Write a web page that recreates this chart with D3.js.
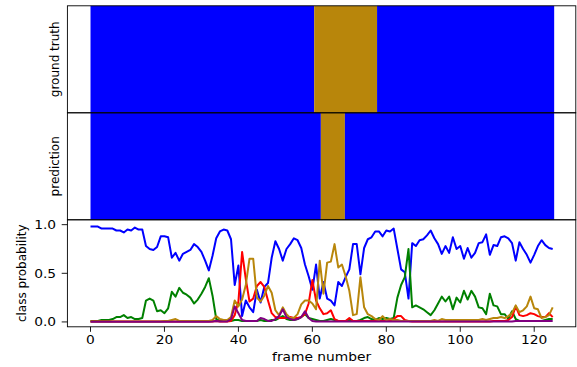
<!DOCTYPE html>
<html>
<head>
<meta charset="utf-8">
<script src="https://cdn.jsdelivr.net/npm/d3@7"></script>
<style>
  html, body { margin: 0; padding: 0; background: #fff; }
  svg { display: block; }
  text { font-family: "DejaVu Sans", sans-serif; fill: #000; }
</style>
</head>
<body>
<svg id="chart" width="577" height="367"></svg>
<script>
// Class colours (index = class id)
const classColors = ["#0000ff", "#008000", "#ff0000", "#b8860b", "#800080"];

// Ground-truth and predicted label segments (class id, start frame, end frame)
const truthClass = [0, 3, 0];
const truthStart = [0, 60.5, 77.5];
const truthEnd   = [60.5, 77.5, 125.4];

const predClass = [0, 3, 0];
const predStart = [0, 62.3, 68.8];
const predEnd   = [62.3, 68.8, 125.4];

// Per-frame class probabilities, frames 0..125
const probBlue = [
  0.98,0.98,0.98,0.96,0.96,0.96,0.96,0.94,0.94,0.92,
  0.95,0.94,0.97,0.95,0.95,0.78,0.75,0.74,0.77,0.88,
  0.88,0.87,0.66,0.71,0.63,0.70,0.72,0.74,0.80,0.77,
  0.72,0.63,0.53,0.68,0.86,0.93,0.95,0.94,0.85,0.38,
  0.58,0.06,0.22,0.15,0.10,0.33,0.20,0.36,0.40,0.66,
  0.83,0.75,0.63,0.75,0.80,0.86,0.84,0.76,0.59,0.47,
  0.33,0.59,0.24,0.41,0.24,0.22,0.17,0.41,0.37,0.46,
  0.54,0.80,0.80,0.49,0.76,0.85,0.87,0.93,0.93,0.88,
  0.94,0.93,0.96,0.75,0.54,0.51,0.24,0.81,0.78,0.84,
  0.85,0.89,0.94,0.86,0.80,0.70,0.78,0.71,0.87,0.75,
  0.78,0.65,0.76,0.66,0.71,0.81,0.82,0.90,0.69,0.79,
  0.78,0.87,0.88,0.86,0.81,0.63,0.82,0.75,0.69,0.61,
  0.69,0.78,0.84,0.79,0.76,0.75
];
const probGreen = [
  0.01,0.01,0.01,0.02,0.02,0.02,0.03,0.05,0.05,0.07,
  0.04,0.05,0.03,0.03,0.04,0.22,0.24,0.22,0.11,0.12,
  0.09,0.14,0.31,0.26,0.35,0.30,0.28,0.25,0.19,0.23,
  0.29,0.36,0.45,0.27,0.03,0.01,0.01,0.01,0.01,0.02,
  0.02,0.01,0.01,0.01,0.01,0.01,0.02,0.01,0.01,0.02,
  0.02,0.04,0.06,0.03,0.02,0.02,0.03,0.05,0.08,0.04,
  0.03,0.02,0.01,0.01,0.02,0.03,0.02,0.01,0.01,0.01,
  0.02,0.01,0.01,0.02,0.04,0.05,0.03,0.02,0.04,0.03,
  0.04,0.03,0.04,0.25,0.38,0.46,0.75,0.15,0.17,0.15,
  0.13,0.10,0.07,0.12,0.19,0.26,0.21,0.26,0.13,0.25,
  0.20,0.32,0.23,0.32,0.26,0.15,0.14,0.08,0.29,0.17,
  0.16,0.08,0.08,0.03,0.11,0.03,0.01,0.01,0.01,0.01,
  0.01,0.01,0.01,0.02,0.03,0.03
];
const probRed = [
  0.005,0.005,0.005,0.005,0.005,0.005,0.005,0.005,0.005,0.005,
  0.005,0.005,0.005,0.005,0.005,0.005,0.005,0.005,0.005,0.005,
  0.005,0.005,0.005,0.005,0.005,0.005,0.005,0.005,0.005,0.005,
  0.005,0.005,0.005,0.005,0.01,0.005,0.005,0.005,0.01,0.07,
  0.21,0.72,0.44,0.21,0.24,0.37,0.41,0.36,0.22,0.09,
  0.05,0.04,0.04,0.04,0.05,0.04,0.04,0.05,0.08,0.19,
  0.43,0.22,0.14,0.08,0.09,0.12,0.03,0.01,0.01,0.01,
  0.04,0.01,0.01,0.01,0.01,0.01,0.01,0.01,0.01,0.01,
  0.01,0.01,0.03,0.06,0.06,0.02,0.01,0.005,0.005,0.005,
  0.005,0.005,0.005,0.005,0.005,0.005,0.005,0.005,0.005,0.005,
  0.005,0.005,0.005,0.005,0.005,0.005,0.005,0.005,0.005,0.01,
  0.01,0.01,0.01,0.02,0.05,0.16,0.07,0.06,0.07,0.09,
  0.08,0.06,0.05,0.05,0.09,0.05
];
const probGold = [
  0.005,0.005,0.005,0.005,0.005,0.005,0.005,0.005,0.005,0.005,
  0.005,0.005,0.005,0.005,0.005,0.005,0.005,0.005,0.005,0.005,
  0.01,0.01,0.02,0.03,0.01,0.01,0.01,0.01,0.01,0.01,
  0.01,0.01,0.01,0.02,0.06,0.03,0.02,0.02,0.05,0.22,
  0.16,0.23,0.38,0.65,0.65,0.25,0.21,0.27,0.37,0.30,
  0.12,0.07,0.15,0.08,0.04,0.04,0.08,0.18,0.22,0.22,
  0.19,0.13,0.63,0.29,0.61,0.62,0.80,0.56,0.59,0.47,
  0.32,0.07,0.08,0.46,0.15,0.08,0.06,0.03,0.02,0.06,
  0.02,0.03,0.02,0.02,0.01,0.01,0.01,0.01,0.01,0.01,
  0.01,0.01,0.01,0.02,0.01,0.03,0.02,0.02,0.02,0.02,
  0.02,0.02,0.02,0.02,0.02,0.02,0.03,0.02,0.03,0.04,
  0.04,0.05,0.04,0.06,0.09,0.17,0.10,0.12,0.16,0.26,
  0.14,0.13,0.04,0.05,0.07,0.15
];
const probPurple = [
  0.003,0.003,0.003,0.003,0.003,0.003,0.003,0.003,0.003,0.003,
  0.003,0.003,0.003,0.003,0.003,0.003,0.003,0.003,0.003,0.003,
  0.003,0.003,0.003,0.003,0.003,0.003,0.003,0.003,0.003,0.003,
  0.003,0.003,0.003,0.005,0.01,0.005,0.005,0.005,0.03,0.16,
  0.09,0.02,0.01,0.01,0.01,0.01,0.04,0.03,0.01,0.01,
  0.03,0.06,0.13,0.05,0.03,0.02,0.03,0.05,0.11,0.04,
  0.01,0.005,0.005,0.005,0.005,0.005,0.005,0.005,0.005,0.005,
  0.005,0.005,0.005,0.005,0.005,0.005,0.005,0.005,0.005,0.005,
  0.005,0.005,0.005,0.005,0.005,0.005,0.005,0.005,0.005,0.005,
  0.005,0.005,0.005,0.005,0.005,0.005,0.005,0.005,0.005,0.005,
  0.005,0.005,0.005,0.005,0.005,0.005,0.005,0.005,0.005,0.005,
  0.005,0.005,0.005,0.005,0.005,0.01,0.01,0.01,0.01,0.01,
  0.01,0.01,0.01,0.01,0.01,0.01
];
const probSeries = [probBlue, probGreen, probRed, probGold, probPurple];

const xTicks = [0, 20, 40, 60, 80, 100, 120];
const yTicks = [0.0, 0.5, 1.0];

// ---- layout ----
const svg = d3.select("#chart");
const plotLeft = 67.4, plotRight = 575.8, plotTop = 5.8, panelH = 107;
const stretch = 1.15;              // horizontal text aspect
const fontSize = 12;

const x = d3.scaleLinear().domain([-6.25, 131.25]).range([plotLeft, plotRight]);
const panelTop = i => plotTop + i * panelH;

// label bar panels
function segmentPanel(idx, cls, starts, ends) {
  const g = svg.append("g");
  const y0 = panelTop(idx);
  g.selectAll("rect").data(cls).join("rect")
    .attr("x", (c, i) => x(starts[i]))
    .attr("width", (c, i) => x(ends[i]) - x(starts[i]))
    .attr("y", y0)
    .attr("height", panelH)
    .attr("fill", c => classColors[c]);
}
segmentPanel(0, truthClass, truthStart, truthEnd);
segmentPanel(1, predClass, predStart, predEnd);

// probability panel
const y = d3.scaleLinear().domain([-0.05, 1.05]).range([panelTop(3), panelTop(2)]);
const clipId = "probClip";
svg.append("clipPath").attr("id", clipId).append("rect")
  .attr("x", plotLeft).attr("y", panelTop(2)).attr("width", plotRight - plotLeft).attr("height", panelH);

const line = d3.line().x((d, i) => x(i)).y(d => y(d));
svg.append("g").attr("clip-path", `url(#${clipId})`)
  .selectAll("path").data(probSeries).join("path")
  .attr("d", d => line(d))
  .attr("fill", "none")
  .attr("stroke", (d, i) => classColors[i])
  .attr("stroke-width", 2)
  .attr("stroke-linejoin", "round")
  .attr("stroke-linecap", "butt");

// frames: spines and separators
const frame = svg.append("g").attr("fill", "none").attr("stroke", "#000").attr("stroke-width", 0.9);
for (let i = 0; i < 3; i++) {
  frame.append("rect").attr("x", plotLeft).attr("y", panelTop(i))
    .attr("width", plotRight - plotLeft).attr("height", panelH);
}

// x axis ticks
const xAxisG = svg.append("g");
xAxisG.selectAll("line").data(xTicks).join("line")
  .attr("x1", d => x(d)).attr("x2", d => x(d))
  .attr("y1", panelTop(3)).attr("y2", panelTop(3) + 5)
  .attr("stroke", "#000").attr("stroke-width", 0.9);
xAxisG.selectAll("text").data(xTicks).join("text")
  .attr("transform", d => `translate(${x(d)},${panelTop(3) + 17.5}) scale(${stretch},1)`)
  .attr("text-anchor", "middle")
  .attr("font-size", fontSize)
  .text(d => d);

// y axis ticks
const yAxisG = svg.append("g");
yAxisG.selectAll("line").data(yTicks).join("line")
  .attr("x1", plotLeft - 5.7).attr("x2", plotLeft)
  .attr("y1", d => y(d)).attr("y2", d => y(d))
  .attr("stroke", "#000").attr("stroke-width", 0.9);
yAxisG.selectAll("text").data(yTicks).join("text")
  .attr("transform", d => `translate(${plotLeft - 11.3},${y(d) + 4.3}) scale(${stretch},1)`)
  .attr("text-anchor", "end")
  .attr("font-size", fontSize)
  .text(d => d.toFixed(1));

// axis titles
svg.append("text")
  .attr("transform", `translate(${(plotLeft + plotRight) / 2},361) scale(${stretch},1)`)
  .attr("text-anchor", "middle").attr("font-size", fontSize)
  .text("frame number");

const vTitles = [
  { text: "ground truth", x: 59.1, panel: 0 },
  { text: "prediction", x: 59.1, panel: 1 },
  { text: "class probability", x: 25.8, panel: 2 }
];
svg.selectAll("text.vtitle").data(vTitles).join("text")
  .attr("class", "vtitle")
  .attr("transform", d => `translate(${d.x},${panelTop(d.panel) + panelH / 2}) rotate(-90)`)
  .attr("text-anchor", "middle").attr("font-size", fontSize)
  .text(d => d.text);
</script>
</body>
</html>
